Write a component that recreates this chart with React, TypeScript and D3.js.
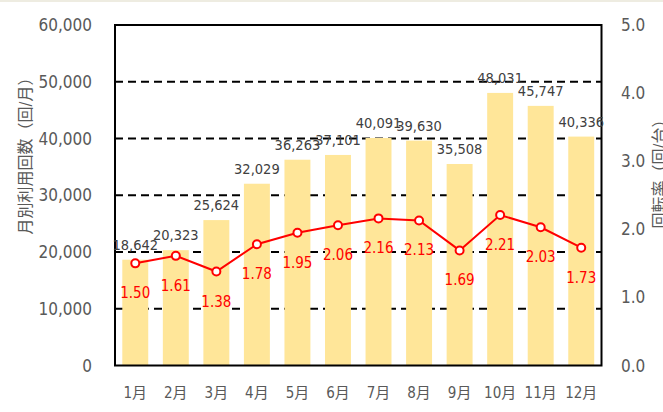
import React from "react";
import * as d3 from "d3";

const months = ["1月", "2月", "3月", "4月", "5月", "6月", "7月", "8月", "9月", "10月", "11月", "12月"];
const usage = [18642, 20323, 25624, 32029, 36263, 37101, 40091, 39630, 35508, 48031, 45747, 40336];
const turnover = [1.5, 1.61, 1.38, 1.78, 1.95, 2.06, 2.16, 2.13, 1.69, 2.21, 2.03, 1.73];
const leftTicks = [0, 10000, 20000, 30000, 40000, 50000, 60000];
const rightTicks = [0, 1, 2, 3, 4, 5];
const leftTitle = "月別利用回数（回/月）";
const rightTitle = "回転率（回/台）";

const W = 663;
const H = 412;
const M = { left: 115, right: 601.5, top: 25, bottom: 365.5 };
const FONT = "'DejaVu Sans Condensed', 'DejaVu Sans', 'Noto Sans CJK JP', sans-serif";

export default function App() {
  const x = d3.scaleBand<string>().domain(months).range([M.left, M.right]).paddingInner(0.36).paddingOuter(0.18);
  const yL = d3.scaleLinear().domain([0, 60000]).range([M.bottom, M.top]);
  const yR = d3.scaleLinear().domain([0, 5]).range([M.bottom, M.top]);
  const fmt = d3.format(",");
  const cx = (m: string) => (x(m) as number) + x.bandwidth() / 2;
  const line = d3
    .line<number>()
    .x((_, i) => cx(months[i]))
    .y((d) => yR(d));

  return (
    <svg width={W} height={H} style={{ position: "absolute", left: 0, top: 0, background: "#fff" }} fontFamily={FONT} fontStretch="condensed">
      <rect x={0} y={0} width={W} height={2} fill="#EEECE1" />
      {leftTicks.slice(1, -1).map((t) => (
        <line key={t} x1={M.left} x2={M.right} y1={yL(t)} y2={yL(t)} stroke="#000" strokeWidth={2} strokeDasharray="8,5" />
      ))}
      {usage.map((v, i) => (
        <rect key={i} x={x(months[i])} y={yL(v)} width={x.bandwidth()} height={yL(0) - yL(v)} fill="#FFE699" />
      ))}
      <rect x={M.left} y={M.top} width={M.right - M.left} height={M.bottom - M.top} fill="none" stroke="#000" strokeWidth={2} />
      <path d={line(turnover) as string} fill="none" stroke="#FF0000" strokeWidth={2} />
      {turnover.map((v, i) => (
        <circle key={i} cx={cx(months[i])} cy={yR(v)} r={4} fill="#fff" stroke="#FF0000" strokeWidth={2} />
      ))}
      {usage.map((v, i) => (
        <text key={i} x={cx(months[i])} y={yL(v) - 15} textAnchor="middle" dominantBaseline="central" fontSize={14.5} fill="#404040">
          {fmt(v)}
        </text>
      ))}
      {turnover.map((v, i) => (
        <text key={i} x={cx(months[i])} y={yR(v) + 30} textAnchor="middle" dominantBaseline="central" fontSize={15} fill="#FF0000">
          {v.toFixed(2)}
        </text>
      ))}
      {leftTicks.map((t) => (
        <text key={t} x={92} y={yL(t)} textAnchor="end" dominantBaseline="central" fontSize={17} fill="#595959">
          {fmt(t)}
        </text>
      ))}
      {rightTicks.map((t) => (
        <text key={t} x={621} y={yR(t)} textAnchor="start" dominantBaseline="central" fontSize={17} fill="#595959">
          {t.toFixed(1)}
        </text>
      ))}
      {months.map((m) => (
        <text key={m} x={cx(m)} y={393} textAnchor="middle" dominantBaseline="central" fontSize={15} fill="#595959">
          {m}
        </text>
      ))}
      <text transform="translate(25,152) rotate(-90)" textAnchor="middle" dominantBaseline="central" fontSize={16} fill="#595959">
        {leftTitle}
      </text>
      <text transform="translate(659,170) rotate(-90)" textAnchor="middle" dominantBaseline="central" fontSize={16} fill="#595959">
        {rightTitle}
      </text>
    </svg>
  );
}
